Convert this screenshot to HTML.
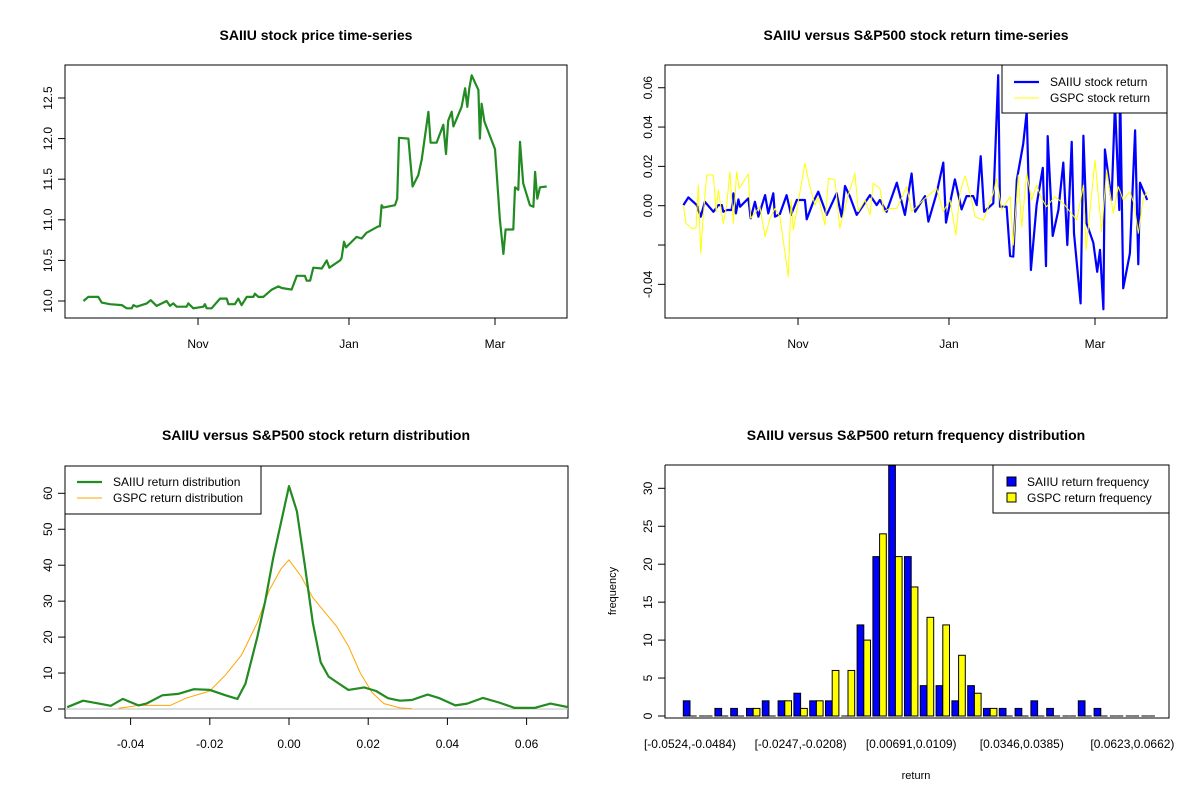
<!DOCTYPE html>
<html><head><meta charset="utf-8"><style>
body{margin:0;background:#fff}
svg{display:block;font-family:"Liberation Sans",Arial,sans-serif}
</style></head><body>
<svg id="s" width="1200" height="800" viewBox="0 0 1200 800">
<rect width="1200" height="800" fill="#fff"/>
<text x="316" y="40" text-anchor="middle" font-size="14" font-weight="bold">SAIIU stock price time-series</text>
<text x="916" y="40" text-anchor="middle" font-size="14" font-weight="bold">SAIIU versus S&amp;P500 stock return time-series</text>
<text x="316" y="440" text-anchor="middle" font-size="14" font-weight="bold">SAIIU versus S&amp;P500 stock return distribution</text>
<text x="916" y="440" text-anchor="middle" font-size="14" font-weight="bold">SAIIU versus S&amp;P500 return frequency distribution</text>
<g id="g1"></g>
<g id="g2"></g>
<g id="g3"></g>
<g id="g4"></g>
</svg>
<script>
// ---- price series (days since Nov 1) ----
const priceDays=[-46.3,-44.3,-40.3,-38.9,-35.6,-30.8,-28.8,-26.8,-26.1,-24.8,-20.7,-19.1,-16.7,-12.7,-11.3,-10.0,-8.6,-4.6,-3.9,-1.9,2.2,2.8,3.5,5.5,8.9,11.6,12.3,14.9,16.3,17.6,19.7,22.4,23.0,24.4,26.4,29.8,32.5,33.8,37.8,39.9,43.2,43.9,45.3,46.6,50.0,52.0,53.1,57.4,58.0,59.0,59.8,64.1,66.1,68.1,72.9,73.5,74.2,74.9,79.6,80.5,81.2,85.0,86.7,89.0,90.4,93.1,94.0,96.4,99.1,100.2,101.1,102.5,103.2,106.5,107.9,108.8,109.6,110.6,113.3,113.9,114.6,115.7,120.0,122.0,123.4,124.3,127.4,128.1,129.4,130.1,131.4,134.1,135.5,136.2,137.1,138.2,140.9];
const prices=[10.00,10.05,10.05,9.98,9.96,9.95,9.91,9.91,9.95,9.93,9.97,10.01,9.94,10.0,9.94,9.97,9.93,9.93,9.97,9.91,9.93,9.96,9.91,9.91,10.03,10.03,9.96,9.96,10.03,9.95,10.05,10.05,10.09,10.05,10.05,10.14,10.18,10.16,10.14,10.31,10.31,10.25,10.25,10.41,10.40,10.50,10.41,10.50,10.53,10.73,10.66,10.79,10.77,10.84,10.92,10.92,11.18,11.15,11.18,11.26,12.01,12.00,11.41,11.55,11.74,12.33,11.95,11.95,12.17,11.81,12.22,12.33,12.15,12.39,12.62,12.39,12.62,12.78,12.60,12.00,12.43,12.21,11.87,11.00,10.58,10.88,10.88,11.40,11.37,11.96,11.45,11.18,11.16,11.59,11.26,11.40,11.41];
const priceTicks=["10.0","10.5","11.0","11.5","12.0","12.5"];
const monthTicks=["Nov","Jan","Mar"];
const monthDays=[0,61,120];
// ---- returns ----
const saiDays=[-46.3,-44.3,-40.9,-39.3,-37.6,-34.2,-32.2,-30.8,-30.2,-28.8,-26.8,-26.1,-25.1,-24.1,-23.4,-20.1,-19.1,-17.4,-16.0,-13.3,-12.0,-10.0,-9.3,-7.3,-4.6,-2.8,-0.5,2.8,3.5,6.2,8.2,10.2,11.6,15.6,17.6,19.0,21.0,23.7,26.4,29.1,31.8,33.1,35.8,39.9,43.2,45.9,47.3,51.3,52.7,56.0,58.7,59.8,63.4,66.1,68.1,70.8,72.2,73.8,75.2,78.9,80.9,81.6,84.3,85.7,87.0,88.4,91.0,92.4,94.1,96.4,98.9,100.2,100.9,102.9,105.2,107.2,108.8,110.6,111.5,114.2,115.3,116.6,119.3,120.9,122.0,123.4,124.0,126.7,128.1,129.8,130.1,131.4,134.1,136.2,137.5,138.2,141.1];
const saiRet=[0.0003,0.0042,0.0003,-0.0056,0.0020,-0.0031,0.0003,0.0003,-0.0031,-0.0022,-0.0022,0.0063,-0.0039,0.0032,-0.0005,0.0037,-0.0064,0.0020,-0.0056,0.0054,-0.0039,0.0063,-0.0056,-0.0042,0.0054,-0.0047,0.0029,0.0029,-0.0069,0.0020,0.0071,0.0003,-0.0047,0.0063,-0.0056,0.0100,0.0046,-0.0047,0.0003,0.0054,0.0003,0.0029,-0.0031,0.0117,-0.0047,0.0164,-0.0031,0.0049,-0.0081,0.0063,0.0219,-0.0086,0.0134,-0.0019,0.0049,0.0049,0.0003,0.0252,-0.0031,0.0012,0.0664,-0.0005,-0.0005,-0.0256,-0.0259,0.0131,0.0314,0.0478,-0.0327,0.0003,0.0193,-0.0307,0.0354,-0.0154,-0.0022,0.0219,-0.0200,0.0325,-0.0141,-0.0497,0.0356,-0.0090,-0.0188,-0.0336,-0.0225,-0.0527,0.0286,0.0029,0.0520,-0.0022,0.0639,-0.0420,-0.0242,0.0383,-0.0298,0.0117,0.0029];
const gspDays=[-46.3,-45.3,-43.0,-41.2,-40.3,-39.3,-38.5,-36.9,-34.2,-33.1,-32.2,-30.2,-28.8,-27.5,-26.1,-24.8,-23.7,-20.1,-19.1,-15.4,-13.3,-11.3,-9.3,-7.3,-5.9,-3.9,-2.8,-1.9,2.8,4.8,6.9,8.2,10.9,12.3,14.9,16.9,19.7,23.0,24.4,27.1,29.1,30.4,33.1,34.7,37.0,39.9,43.9,45.9,50.6,56.0,58.7,61.4,63.8,65.5,67.5,70.2,71.5,74.9,78.9,80.3,82.3,85.7,87.0,89.0,90.4,92.4,94.4,96.4,98.4,100.4,103.8,107.2,112.6,115.3,116.4,120.0,122.7,124.7,127.4,129.4,131.4,134.1,135.7,137.5,139.5,141.1];
const gspRet=[0.0003,-0.009,-0.0115,-0.0115,0.0105,-0.0242,-0.009,0.0156,0.0156,-0.003,0.008,-0.009,0.0003,0.0173,-0.009,0.0173,0.0088,0.0161,-0.0064,-0.0005,-0.0158,-0.0064,-0.0014,-0.0056,-0.0183,-0.0361,0.0029,-0.0124,0.0215,0.0097,0.0003,0.0046,-0.0098,0.0139,0.0131,-0.0115,0.0029,0.0164,-0.003,0.0029,-0.0047,0.0114,0.0088,-0.003,-0.0014,-0.0014,0.0097,-0.003,0.0029,0.0088,-0.003,0.0029,-0.0149,0.0071,0.0151,0.0029,-0.0056,-0.0073,0.0063,0.0139,-0.0022,0.0046,-0.02,0.0156,-0.0107,0.0164,0.0029,0.0105,0.0037,-0.0005,0.0046,0.0012,-0.0073,0.0105,-0.0225,0.0232,-0.0132,0.0181,-0.0039,0.0097,0.0029,0.0071,0.0012,-0.0141,0.0037,0.0071];
const retTicks=[0.06,0.04,0.02,0.00,-0.02,-0.04];
const retTickLabels=["0.06","0.04","0.02","0.00","","-0.04"];
// ---- densities ----
const saiDensX=[-0.056,-0.052,-0.048,-0.045,-0.042,-0.038,-0.036,-0.032,-0.028,-0.024,-0.020,-0.016,-0.013,-0.011,-0.008,-0.006,-0.004,-0.002,0.000,0.002,0.004,0.006,0.008,0.010,0.012,0.015,0.019,0.022,0.025,0.028,0.031,0.035,0.038,0.042,0.045,0.049,0.053,0.057,0.062,0.066,0.071];
const saiDensY=[0.5,2.3,1.5,0.9,2.8,1.0,1.5,3.8,4.2,5.5,5.3,3.8,2.8,7,20,30,42,52,62,55,40,24,13,9,7.5,5.3,6,5,3,2.3,2.5,4,3,1,1.5,3.1,1.8,0.3,0.3,1.5,0.4];
const gspDensX=[-0.043,-0.038,-0.034,-0.030,-0.026,-0.020,-0.016,-0.012,-0.008,-0.005,-0.002,0.000,0.003,0.006,0.009,0.012,0.015,0.018,0.021,0.024,0.028,0.031];
const gspDensY=[0.2,1.0,1.0,1.0,3,5,9.5,15,24,33,39,41.5,37,31,27,23,17.5,10,4.5,1.5,0.3,0.1];
const densXTicks=[-0.04,-0.02,0.00,0.02,0.04,0.06];
const densYTicks=[0,10,20,30,40,50,60];
// ---- histogram ----
const saiFreq=[2,0,1,1,1,2,2,3,2,2,0,12,21,33,21,4,4,2,4,1,1,1,2,1,0,2,1,0,0,0];
const gspFreq=[0,0,0,0,1,0,2,1,2,6,6,10,24,21,17,13,12,8,3,1,0,0,0,0,0,0,0,0,0,0];
const binLabels=["[-0.0524,-0.0484)","[-0.0247,-0.0208)","[0.00691,0.0109)","[0.0346,0.0385)","[0.0623,0.0662)"];
const binLabelIdx=[0,7,14,21,28];
const freqTicks=[0,5,10,15,20,25,30];

const NS="http://www.w3.org/2000/svg";
function mk(p,tag,at,txt){const e=document.createElementNS(NS,tag);for(const k in at)e.setAttribute(k,at[k]);if(txt!==undefined)e.textContent=txt;p.appendChild(e);return e;}
function box(g,x0,y0,x1,y1){const r=mk(g,'rect',{x:x0,y:y0,width:x1-x0,height:y1-y0,fill:'none',stroke:'#000','stroke-width':1});

}
function ytick(g,xa,y,lab){mk(g,'line',{x1:xa-7,y1:y,x2:xa,y2:y,stroke:'#000'});
if(lab!==''){const t=mk(g,'text',{x:xa-13,y:y,'font-size':12,'text-anchor':'middle',transform:`rotate(-90 ${xa-13} ${y})`},lab);

}}
function xtick(g,x,ya,lab){mk(g,'line',{x1:x,y1:ya,x2:x,y2:ya+7,stroke:'#000'});
const t=mk(g,'text',{x:x,y:ya+30,'font-size':12,'text-anchor':'middle'},lab);

}
function path(g,xs,ys,fx,fy,col,w,name){let d='';for(let i=0;i<xs.length;i++)d+=(i?'L':'M')+fx(xs[i]).toFixed(1)+','+fy(ys[i]).toFixed(1);
const p=mk(g,'path',{d:d,fill:'none',stroke:col,'stroke-width':w,'stroke-linejoin':'round'});

return p;}

// Panel 1
(function(){const g=document.getElementById('g1');
const X=d=>198+d*2.475, Y=v=>301-(v-10)*81.2;
box(g,65,65,567,318);
priceTicks.forEach(t=>ytick(g,65,Y(+t),t));
monthTicks.forEach((m,i)=>xtick(g,X(monthDays[i]),318,m));
path(g,priceDays,prices,X,Y,'#228B22',2.2,'price-line');})();

// Panel 2
(function(){const g=document.getElementById('g2');
const X=d=>798+d*2.475, Y=v=>205.7-v*1966;
const cp=mk(g,'clipPath',{id:'c2'});mk(cp,'rect',{x:665,y:65,width:502,height:253});
box(g,665,65,1167,318);
retTicks.forEach((t,i)=>ytick(g,665,Y(t),retTickLabels[i]));
monthTicks.forEach((m,i)=>xtick(g,X(monthDays[i]),318,m));
const gg=mk(g,'g',{'clip-path':'url(#c2)'});
path(gg,saiDays,saiRet,X,Y,'#0000FF',2.2,'saiiu-return-line');
path(gg,gspDays,gspRet,X,Y,'#FFFF00',1,'gspc-return-line');
const lg=mk(g,'g',{});
mk(lg,'rect',{x:1002,y:65,width:165,height:48,fill:'#fff',stroke:'#000'});
mk(lg,'line',{x1:1014,y1:82,x2:1039,y2:82,stroke:'#0000FF','stroke-width':2.2});
mk(lg,'line',{x1:1014,y1:98,x2:1039,y2:98,stroke:'#FFFF00','stroke-width':1});
mk(lg,'text',{x:1050,y:86,'font-size':12},'SAIIU stock return');
mk(lg,'text',{x:1050,y:102,'font-size':12},'GSPC stock return');})();

// Panel 3
(function(){const g=document.getElementById('g3');
const X=v=>289+v*3960, Y=v=>709-v*3.595;
const cp=mk(g,'clipPath',{id:'c3'});mk(cp,'rect',{x:65,y:466,width:503,height:252});
box(g,65,466,568,718);
densYTicks.forEach(t=>ytick(g,65,Y(t),String(t)));
densXTicks.forEach(t=>xtick(g,X(t),718,t.toFixed(2)));
const gg=mk(g,'g',{'clip-path':'url(#c3)'});
mk(gg,'line',{x1:65,y1:Y(0),x2:568,y2:Y(0),stroke:'#BEBEBE'});
path(gg,gspDensX,gspDensY,X,Y,'#FFA500',1,'gspc-density-line');
path(gg,saiDensX,saiDensY,X,Y,'#228B22',2.2,'saiiu-density-line');
const lg=mk(g,'g',{});
mk(lg,'rect',{x:65,y:466,width:196,height:48,fill:'#fff',stroke:'#000'});
mk(lg,'line',{x1:77,y1:482,x2:102,y2:482,stroke:'#228B22','stroke-width':2.2});
mk(lg,'line',{x1:77,y1:498,x2:102,y2:498,stroke:'#FFA500','stroke-width':1});
mk(lg,'text',{x:113,y:486,'font-size':12},'SAIIU return distribution');
mk(lg,'text',{x:113,y:502,'font-size':12},'GSPC return distribution');})();

// Panel 4
(function(){const g=document.getElementById('g4');
const Y=v=>716-v*7.59, GX=i=>683.3+i*15.8, BW=6.7;
const cp=mk(g,'clipPath',{id:'c4'});mk(cp,'rect',{x:665,y:465,width:504,height:253});
const gg=mk(g,'g',{'clip-path':'url(#c4)'});
function bar(x,v,col,name){
  if(v>0){const r=mk(gg,'rect',{x:x,y:Y(v),width:BW,height:Y(0)-Y(v),fill:col,stroke:'#000','stroke-width':1});
  
  }
  else{const l=mk(gg,'line',{x1:x,y1:Y(0),x2:x+BW,y2:Y(0),stroke:'#000','stroke-width':1});
  
  }
}
saiFreq.forEach((v,i)=>bar(GX(i),v,'#0000FF','bar-saiiu'));
gspFreq.forEach((v,i)=>bar(GX(i)+BW,v,'#FFFF00','bar-gspc'));
mk(g,'polyline',{points:'665,465 1169,465 1169,718 665,718 665,465',fill:'none',stroke:'#000'});
freqTicks.forEach(t=>ytick(g,665,Y(t),String(t)));
binLabels.forEach((l,k)=>{const t=mk(g,'text',{x:GX(binLabelIdx[k])+BW,y:748,'font-size':12,'text-anchor':'middle'},l);

});
const yl=mk(g,'text',{x:616,y:591,'font-size':11,'text-anchor':'middle',transform:'rotate(-90 616 591)'},'frequency');


const xl=mk(g,'text',{x:916,y:779,'font-size':11,'text-anchor':'middle'},'return');


const lg=mk(g,'g',{});
mk(lg,'rect',{x:993,y:465,width:176,height:48,fill:'#fff',stroke:'#000'});
mk(lg,'rect',{x:1007,y:477,width:9,height:9,fill:'#0000FF',stroke:'#000'});
mk(lg,'rect',{x:1007,y:493,width:9,height:9,fill:'#FFFF00',stroke:'#000'});
mk(lg,'text',{x:1027,y:486,'font-size':12},'SAIIU return frequency');
mk(lg,'text',{x:1027,y:502,'font-size':12},'GSPC return frequency');})();
</script>
</body></html>
